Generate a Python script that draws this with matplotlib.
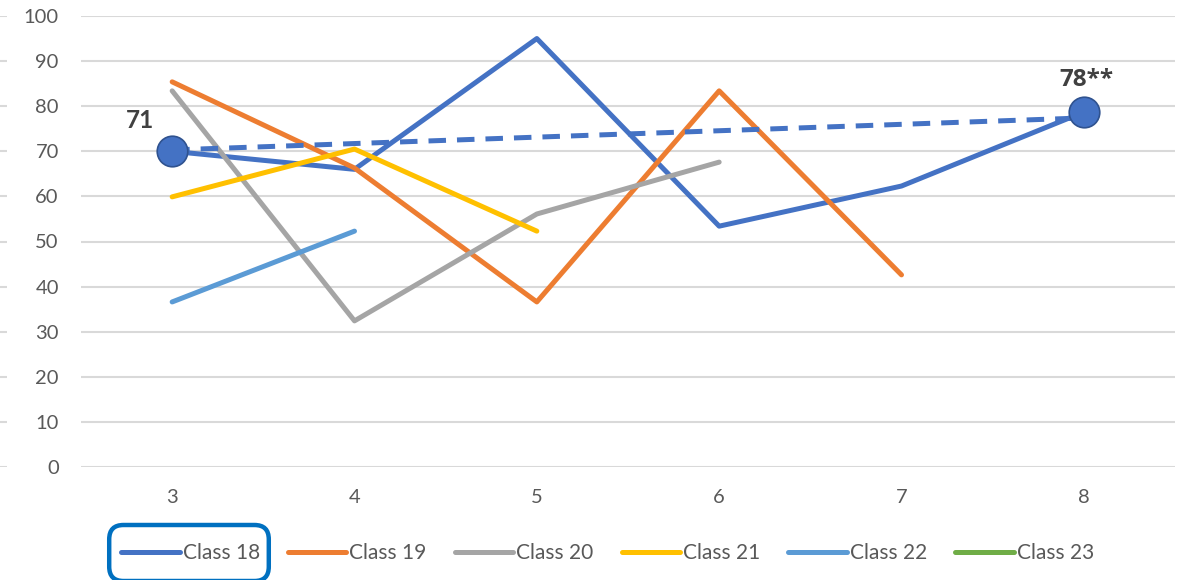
import matplotlib
matplotlib.use("Agg")
import matplotlib.pyplot as plt
from matplotlib.patches import FancyBboxPatch
import numpy as np

grades = [3, 4, 5, 6, 7, 8]
class_names = ["Class 18", "Class 19", "Class 20", "Class 21", "Class 22", "Class 23"]
class_18 = [70, 66, 95, 53.4, 62.3, 78.7]
class_19 = [85.4, 66.3, 36.6, 83.4, 42.6, None]
class_20 = [83.4, 32.4, 56.1, 67.6, None, None]
class_21 = [59.9, 70.5, 52.3, None, None, None]
class_22 = [36.6, 52.3, None, None, None, None]
class_23 = [None, None, None, None, None, None]
trend_x = [3, 8]
trend_y = [70.3, 77.4]
marker_x = [3, 8]
marker_y = [70, 78.7]
marker_labels = ["71", "78**"]
yticks = list(range(0, 101, 10))

colors = ["#4472C4", "#ED7D31", "#A5A5A5", "#FFC000", "#5B9BD5", "#70AD47"]
series = [class_18, class_19, class_20, class_21, class_22, class_23]

plt.rcParams['font.family'] = ['Lato', 'DejaVu Sans']
fig = plt.figure(figsize=(11.89, 5.80), dpi=100)
L, R, T, B = 81/1189, 1175/1189, 1-16/580, 1-467/580
ax = fig.add_axes([L, B, R-L, T-B])

lw = 3.6
for name, vals, c in zip(class_names, series, colors):
    y = np.array([np.nan if v is None else v for v in vals], dtype=float)
    ax.plot(grades, y, color=c, lw=lw, solid_capstyle='round', solid_joinstyle='round', label=name, zorder=3)

ax.plot(trend_x, trend_y, color=colors[0], lw=lw, ls=(0, (3.5, 2.2)), zorder=3)
ax.plot(marker_x, marker_y, ls='none', marker='o', ms=22, mfc="#4472C4", mec="#2F528F", mew=1.2, zorder=5)
ax.annotate(marker_labels[0], (marker_x[0], marker_y[0]), xytext=(-23, 22), textcoords='offset points',
            ha='center', va='center', fontsize=17.5, fontweight='bold', color='#404040')
ax.annotate(marker_labels[1], (marker_x[1], marker_y[1]), xytext=(2, 23), textcoords='offset points',
            ha='center', va='center', fontsize=17.5, fontweight='bold', color='#404040',
            family=['Open Sans', 'DejaVu Sans'])

ax.set_xlim(2.5, 8.5)
ax.set_ylim(0, 100)
ax.set_xticks(grades)
ax.set_yticks(yticks)
ax.tick_params(axis='both', length=0, labelsize=14.5, labelcolor='#595959')
ax.tick_params(axis='x', pad=16)
ax.tick_params(axis='y', pad=16)
ax.grid(axis='y', color='#D9D9D9', lw=1.5)
ax.set_axisbelow(True)
for s in ax.spines.values():
    s.set_visible(False)

# left stubs
ax2 = fig.add_axes([0, B, 7/1189, T-B])
ax2.set_ylim(0, 100)
ax2.set_yticks(yticks)
ax2.set_xticks([])
ax2.tick_params(length=0, labelleft=False)
ax2.grid(axis='y', color='#D9D9D9', lw=1.5)
for s in ax2.spines.values():
    s.set_visible(False)
ax2.patch.set_visible(False)

leg = fig.legend(loc='center', bbox_to_anchor=(0.511, 1-553/580), ncol=6, frameon=False,
                 fontsize=15, handlelength=2.8, handletextpad=0.15, columnspacing=1.35,
                 labelcolor='#595959')
for h in leg.get_lines():
    h.set_linewidth(3.6)
    h.set_solid_capstyle('round')

fig.canvas.draw()
r = fig.canvas.get_renderer()
bb1 = leg.get_lines()[0].get_window_extent(r)
bb2 = leg.get_texts()[0].get_window_extent(r)
x0 = min(bb1.x0, bb2.x0) - 12
x1 = max(bb1.x1, bb2.x1) + 9
yc = (bb2.y0 + bb2.y1) / 2
W, H = fig.bbox.width, fig.bbox.height
box = FancyBboxPatch((x0 / W, (yc - 28) / H), (x1 - x0) / W, 56 / H,
                     boxstyle="round,pad=0,rounding_size=0.012", transform=fig.transFigure,
                     fill=False, ec='#0070C0', lw=3.2, mutation_aspect=W/H)
fig.add_artist(box)

fig.savefig("out.png", dpi=100)
